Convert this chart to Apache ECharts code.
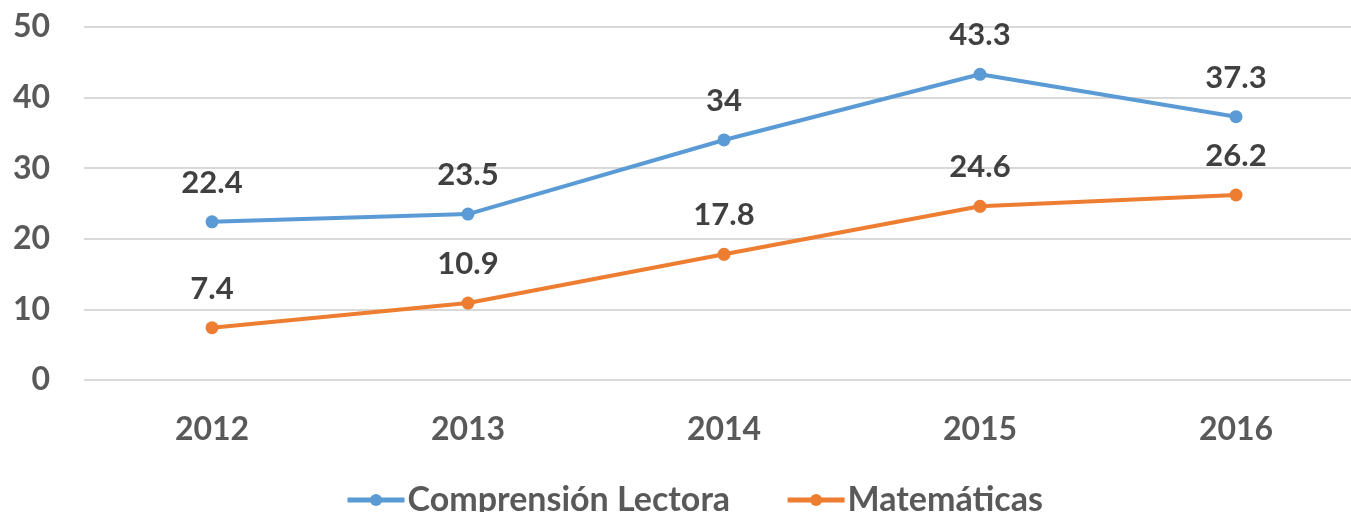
<!DOCTYPE html>
<html>
<head>
<meta charset="utf-8">
<script src="https://cdn.jsdelivr.net/npm/echarts@6/dist/echarts.min.js"></script>
<style>
  html, body { margin: 0; padding: 0; background: #fff; overflow: hidden; }
  #chart { width: 1364px; height: 512px; }
</style>
</head>
<body>
<div id="chart"></div>
<script>
const years = ["2012", "2013", "2014", "2015", "2016"];
const lectura = [22.4, 23.5, 34, 43.3, 37.3];
const matematicas = [7.4, 10.9, 17.8, 24.6, 26.2];

const font = "Lato, 'Open Sans', sans-serif";
const axisGray = "#595959";
const labelGray = "#404040";

function lineSeries(name, data, color) {
  return {
    name,
    type: "line",
    data,
    symbol: "circle",
    symbolSize: 13,
    lineStyle: { width: 4, color },
    itemStyle: { color },
    label: {
      show: true,
      position: "top",
      distance: 17,
      color: labelGray,
      fontFamily: font,
      fontWeight: "bold",
      fontSize: 31,
    },
  };
}

// chart is 13px wider than the window so the last category column is cut off like the original
const chart = echarts.init(document.getElementById("chart"));
chart.setOption({
  animation: false,
  grid: { left: 84, top: 27, right: 0, height: 353 },
  legend: {
    top: 478,
    left: 340,
    itemWidth: 57,
    itemHeight: 15,
    itemGap: 55,
    lineStyle: { width: 5 },
    textStyle: { color: axisGray, fontFamily: font, fontWeight: "bold", fontSize: 34, padding: [0, 0, 0, -2] },
    data: ["Comprensión Lectora", "Matemáticas"],
  },
  xAxis: {
    type: "category",
    data: years,
    boundaryGap: true,
    axisLine: { show: false },
    axisTick: { show: false },
    axisLabel: { color: axisGray, fontFamily: font, fontWeight: "bold", fontSize: 32, margin: 34 },
  },
  yAxis: {
    type: "value",
    min: 0,
    max: 50,
    interval: 10,
    axisLine: { show: false },
    axisTick: { show: false },
    splitLine: { lineStyle: { color: "#d9d9d9", width: 2 } },
    axisLabel: { color: axisGray, fontFamily: font, fontWeight: "bold", fontSize: 32, margin: 34 },
  },
  series: [
    lineSeries("Comprensión Lectora", lectura, "#5b9bd5"),
    lineSeries("Matemáticas", matematicas, "#ed7d31"),
  ],
});
</script>
</body>
</html>
